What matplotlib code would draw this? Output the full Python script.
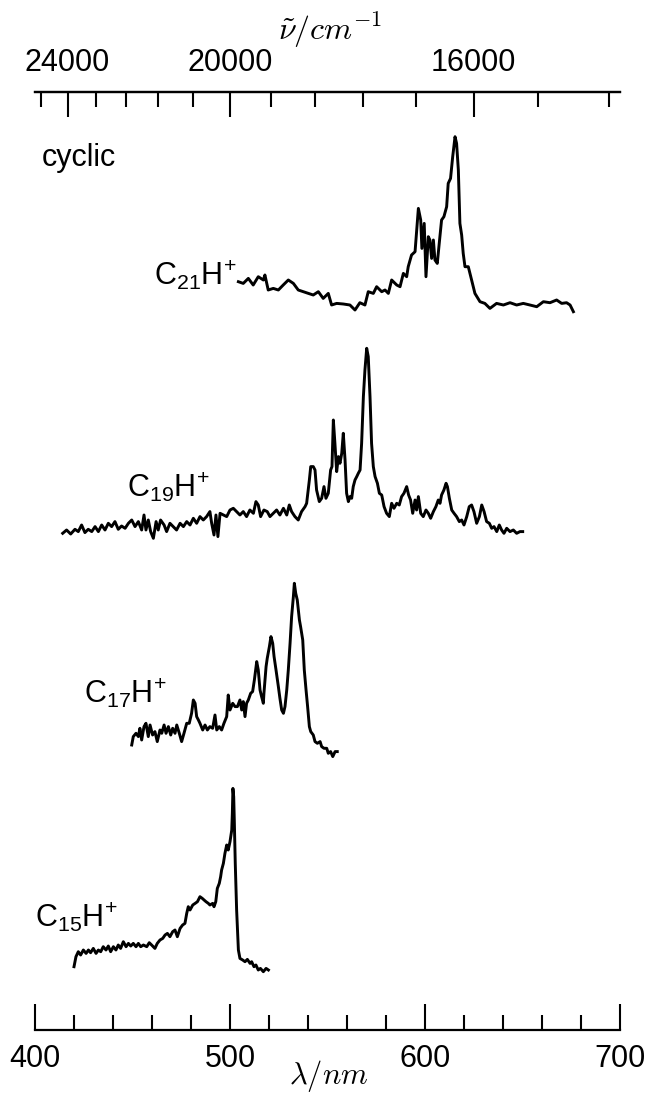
import matplotlib
matplotlib.use("Agg")
import matplotlib.pyplot as plt
from matplotlib.ticker import FixedLocator, MultipleLocator, FixedFormatter
import numpy as np

# ---------------- data (wavelength in nm, intensity in arbitrary units) -------------
c21_wl = [504.3, 506.8, 509.4, 511.9, 514.5, 517.1, 517.9, 519.6, 522.2, 524.8, 527.3, 529.9,
          532.5, 535.0, 537.6, 540.2, 542.7, 545.3, 547.8, 550.4, 552.1, 554.7, 558.1, 561.5,
          564.1, 566.6, 569.2, 570.9, 573.5, 575.2, 577.8, 579.5, 581.2, 582.9, 585.5, 587.2,
          588.9, 590.6, 591.4, 593.1, 594.9, 596.6, 597.8, 598.4, 599.6, 600.5, 601.7, 602.5,
          603.4, 604.3, 605.1, 606.3, 607.3, 608.5, 609.7, 611.1, 611.9, 613.1, 614.2, 615.4,
          616.2, 617.1, 617.9, 618.8, 619.6, 620.5, 622.2, 623.9, 625.6, 628.2, 630.7, 633.3,
          636.7, 640.2, 643.6, 647.0, 650.4, 653.8, 657.3, 660.7, 664.1, 667.5, 670.1, 672.6,
          674.4, 676.1]
c21_int = [30.0, 28.3, 33.3, 26.7, 35.0, 31.7, 36.7, 21.7, 23.3, 21.7, 26.7, 31.7,
           28.3, 21.7, 20.0, 18.3, 16.7, 20.0, 13.3, 18.3, 6.7, 8.3, 7.7, 6.7,
           1.7, 9.0, 6.7, 20.0, 18.3, 25.0, 20.0, 21.7, 18.3, 31.7, 26.7, 25.0,
           38.3, 35.0, 45.0, 56.7, 60.0, 103.3, 91.7, 63.3, 88.3, 35.0, 75.0, 71.7,
           53.3, 71.7, 51.7, 48.3, 68.3, 91.7, 95.0, 105.0, 128.3, 133.3, 155.0, 175.0,
           168.3, 141.7, 88.3, 76.7, 58.3, 45.0, 45.0, 31.7, 18.3, 10.0, 8.3, 3.3,
           8.3, 6.7, 9.0, 6.7, 8.3, 6.7, 5.0, 10.0, 9.0, 11.7, 8.3, 9.0,
           6.7, 0.0]

c19_wl = [414.2, 416.2, 418.3, 420.5, 422.2, 423.9, 425.6, 427.3, 429.1, 430.8, 432.5, 434.2,
          435.9, 437.6, 439.3, 441.0, 442.7, 444.4, 446.2, 447.9, 449.6, 451.3, 453.0, 454.7,
          455.9, 456.9, 458.1, 459.3, 460.7, 462.1, 463.2, 464.4, 466.2, 467.5, 469.2, 470.9,
          472.6, 474.4, 476.1, 477.8, 479.5, 481.2, 482.9, 484.6, 486.3, 488.0, 489.7, 490.6,
          491.8, 492.8, 493.8, 494.9, 496.6, 498.3, 500.0, 501.7, 503.4, 505.1, 506.8, 508.5,
          510.2, 512.0, 513.3, 514.5, 515.7, 517.4, 519.1, 520.5, 522.2, 523.9, 525.6, 527.4,
          529.1, 530.4, 531.6, 533.3, 535.0, 536.7, 538.5, 539.3, 540.7, 541.4, 542.7, 543.6,
          544.4, 545.8, 547.0, 548.2, 549.2, 550.4, 551.6, 552.3, 553.0, 553.8, 554.7, 555.6,
          556.4, 557.3, 558.1, 559.0, 559.8, 560.7, 561.5, 562.4, 563.2, 564.1, 565.0, 565.8,
          566.7, 567.5, 568.4, 569.2, 570.1, 570.9, 571.8, 572.6, 573.5, 574.4, 575.6, 576.6,
          577.8, 579.0, 580.3, 581.7, 582.9, 584.1, 585.5, 586.8, 588.0, 589.2, 590.6, 591.6,
          592.6, 593.7, 594.9, 595.7, 596.6, 597.8, 599.1, 600.5, 601.7, 602.9, 604.3, 605.6,
          606.8, 607.7, 608.5, 609.7, 610.8, 611.5, 612.5, 613.7, 614.9, 616.2, 617.6, 618.8,
          620.0, 621.4, 622.7, 623.9, 625.1, 626.5, 627.9, 629.1, 630.3, 631.6, 633.0, 634.2,
          635.4, 636.8, 638.1, 639.3, 640.5, 641.9, 643.6, 645.3, 647.0, 648.7, 650.1]
c19_int = [5.0, 8.3, 4.3, 9.0, 6.7, 13.3, 5.7, 9.0, 6.7, 11.7, 6.7, 13.3,
           8.3, 15.0, 11.7, 16.7, 9.0, 12.3, 10.0, 15.0, 18.3, 11.7, 16.7, 8.3,
           23.3, 8.3, 18.3, 6.7, 0.0, 16.7, 8.3, 18.3, 13.3, 6.7, 15.0, 11.7,
           8.3, 15.0, 11.7, 16.7, 13.3, 20.0, 15.0, 21.7, 18.3, 21.7, 26.7, 15.0,
           3.3, 23.3, 1.7, 25.0, 23.3, 21.7, 28.3, 30.0, 26.7, 23.3, 26.7, 21.7,
           28.3, 25.0, 36.7, 33.3, 21.7, 28.3, 26.7, 21.7, 25.0, 28.3, 23.3, 30.0,
           23.3, 33.3, 26.7, 21.7, 18.3, 26.7, 31.7, 35.0, 58.3, 71.7, 71.7, 68.3,
           48.3, 36.7, 40.0, 51.7, 40.0, 45.0, 68.3, 71.7, 118.3, 95.0, 66.7, 81.7,
           75.0, 85.0, 105.0, 78.3, 45.0, 36.7, 41.7, 40.0, 51.7, 58.3, 61.7, 65.0,
           68.3, 95.0, 141.7, 168.3, 190.0, 181.7, 141.7, 95.0, 71.7, 61.7, 55.0, 45.0,
           43.3, 31.7, 25.0, 21.7, 35.0, 30.0, 35.0, 33.3, 41.7, 45.0, 51.7, 43.3,
           38.3, 25.0, 38.3, 28.3, 41.7, 25.0, 21.7, 28.3, 25.0, 20.0, 26.7, 31.7,
           38.3, 35.0, 43.3, 48.3, 55.0, 51.7, 40.0, 28.3, 25.0, 21.7, 16.7, 18.3,
           13.3, 21.7, 31.7, 33.3, 26.7, 15.0, 21.7, 33.3, 26.7, 16.7, 15.0, 10.0,
           11.7, 6.7, 13.3, 8.3, 5.0, 10.0, 6.7, 8.3, 5.0, 6.7, 6.7]

c17_wl = [449.6, 450.4, 451.8, 453.0, 453.8, 454.7, 455.9, 456.9, 458.1, 459.0, 460.3, 461.5,
          462.7, 464.1, 465.0, 466.2, 467.2, 468.4, 469.6, 470.6, 471.8, 472.7, 474.0, 475.2,
          476.4, 477.8, 479.1, 480.3, 481.2, 482.1, 482.9, 483.8, 484.6, 486.0, 487.2, 488.4,
          489.7, 491.1, 492.3, 493.2, 494.5, 495.7, 496.9, 498.3, 499.1, 500.0, 501.4, 502.6,
          503.8, 505.1, 506.0, 506.8, 507.7, 508.5, 509.4, 510.6, 511.6, 512.5, 513.7, 514.5,
          515.4, 516.2, 517.1, 517.4, 518.5, 519.1, 520.2, 521.0, 521.9, 522.6, 523.6, 524.8,
          525.6, 526.5, 527.4, 528.2, 529.1, 529.9, 530.8, 531.6, 532.5, 533.0, 533.7, 534.5,
          535.6, 536.2, 537.3, 538.1, 539.0, 539.8, 540.7, 541.4, 542.7, 543.6, 544.8, 546.2,
          547.0, 548.2, 549.6, 550.4, 551.6, 552.7, 553.9, 555.0]
c17_int = [13.3, 21.7, 25.0, 21.7, 30.0, 18.3, 31.7, 35.0, 21.7, 33.3, 23.3, 26.7,
           16.7, 28.3, 25.0, 33.3, 25.0, 31.7, 23.3, 30.0, 25.0, 33.3, 25.0, 16.7,
           25.0, 35.0, 35.0, 45.0, 58.3, 55.0, 41.7, 38.3, 35.0, 28.3, 33.3, 28.3,
           31.7, 30.0, 43.3, 28.3, 31.7, 28.3, 35.0, 41.7, 63.3, 48.3, 55.0, 51.7,
           51.7, 58.3, 48.3, 56.7, 41.7, 55.0, 58.3, 65.0, 66.7, 78.3, 96.7, 88.3,
           68.3, 61.7, 55.0, 65.0, 91.7, 100.0, 111.7, 121.7, 115.0, 101.7, 88.3, 71.7,
           60.0, 48.3, 45.0, 51.7, 68.3, 88.3, 115.0, 141.7, 161.7, 175.0, 165.0, 158.3,
           138.3, 131.7, 118.3, 88.3, 68.3, 51.7, 31.7, 26.7, 23.3, 16.7, 15.0, 16.7,
           11.7, 10.0, 10.0, 5.0, 6.7, 1.7, 6.7, 6.7]

c15_wl = [420.0, 421.0, 422.2, 423.4, 424.8, 426.2, 427.4, 428.5, 429.9, 431.3, 432.5, 433.7,
          435.0, 436.4, 437.6, 438.8, 440.2, 441.5, 442.7, 443.9, 445.3, 446.7, 447.9, 449.1,
          450.4, 451.8, 453.0, 454.2, 455.6, 457.3, 458.6, 459.8, 461.5, 462.7, 464.1, 465.5,
          466.7, 467.9, 469.2, 470.6, 471.8, 473.0, 474.4, 475.7, 476.9, 477.8, 478.6, 479.5,
          480.9, 482.1, 483.3, 484.6, 485.8, 486.7, 487.7, 488.9, 489.7, 491.1, 491.8, 492.7,
          493.5, 494.5, 495.2, 495.7, 496.6, 497.4, 498.3, 499.1, 500.0, 500.9, 501.2, 501.5,
          501.9, 502.2, 502.7, 503.4, 504.3, 505.1, 506.5, 507.7, 508.9, 510.3, 511.1, 512.3,
          513.3, 514.5, 515.6, 517.1, 518.5, 519.7]
c15_int = [5.0, 15.0, 20.0, 16.7, 21.7, 18.3, 21.7, 19.0, 23.3, 18.3, 21.7, 20.0,
           25.0, 21.7, 25.7, 20.0, 25.0, 21.7, 26.7, 23.3, 30.0, 25.0, 28.3, 25.7,
           28.3, 25.0, 28.3, 25.0, 26.7, 25.0, 29.0, 26.7, 23.3, 28.3, 31.7, 33.3,
           36.7, 38.3, 35.0, 40.0, 41.7, 35.0, 43.3, 46.7, 48.3, 58.3, 65.0, 61.7,
           66.7, 68.3, 70.0, 75.0, 73.3, 71.7, 70.0, 68.3, 66.7, 68.3, 65.0, 70.0,
           83.3, 88.3, 95.0, 101.7, 108.3, 118.3, 126.7, 121.7, 130.0, 141.7, 158.3, 183.3,
           175.0, 151.7, 108.3, 61.7, 21.7, 13.3, 11.7, 10.0, 12.3, 8.3, 10.0, 5.0,
           6.7, 1.7, 3.3, 0.0, 3.3, 1.7]

labels = [r"C$_\mathregular{21}$H$^\mathregular{+}$", r"C$_\mathregular{19}$H$^\mathregular{+}$",
          r"C$_\mathregular{17}$H$^\mathregular{+}$", r"C$_\mathregular{15}$H$^\mathregular{+}$"]
wavenumber_major = [24000, 20000, 16000]
wavenumber_minor = [24800, 23200, 22400, 21600, 20800, 19200, 18400, 17600, 16800, 15200, 14400]

# ---------------- layout ----------------
W, H = 645, 1095
fig = plt.figure(figsize=(W / 100, H / 100), dpi=100)
ax = fig.add_axes([35 / W, 1 - 1030 / H, 585 / W, (1030 - 92.3) / H])
ax.set_xlim(400, 700)
ax.set_ylim(0, 1030 - 92.3)

offsets = [718.3, 491.7, 271.7, 58.3]
label_pos = [(461.0, 745), (447.2, 533), (425.1, 327), (400.2, 103)]
series = [(c21_wl, c21_int), (c19_wl, c19_int), (c17_wl, c17_int), (c15_wl, c15_int)]

FS = 22
for (wl, inten), off, lab, (lx, ly) in zip(series, offsets, labels, label_pos):
    ax.plot(wl, np.asarray(inten) + off, color="black", lw=2.1, solid_joinstyle="round")
    ax.text(lx, ly, lab, fontsize=FS, family="Liberation Sans", ha="left", va="baseline")

ax.text(403.6, 872, "cyclic", fontsize=FS, family="Liberation Sans", ha="left", va="center")

for s in ("left", "right"):
    ax.spines[s].set_visible(False)
for s in ("top", "bottom"):
    ax.spines[s].set_linewidth(1.6)
ax.set_yticks([])

ax.xaxis.set_major_locator(MultipleLocator(100))
ax.xaxis.set_minor_locator(MultipleLocator(20))
ax.tick_params(axis="x", which="major", direction="in", length=19, width=1.5, pad=10,
               labelsize=FS, top=False)
ax.tick_params(axis="x", which="minor", direction="in", length=11, width=1.5, top=False)
for t in ax.get_xticklabels():
    t.set_family("Liberation Sans")

sec = ax.secondary_xaxis("top", functions=(lambda x: 1e7 / x, lambda x: 1e7 / x))
sec.xaxis.set_major_locator(FixedLocator(wavenumber_major))
sec.xaxis.set_major_formatter(FixedFormatter([str(v) for v in wavenumber_major]))
sec.xaxis.set_minor_locator(FixedLocator(wavenumber_minor))
sec.tick_params(axis="x", which="major", direction="in", length=18, width=1.5, pad=10,
                labelsize=FS)
sec.tick_params(axis="x", which="minor", direction="in", length=11, width=1.5)
sec.spines["top"].set_linewidth(1.6)
for t in sec.get_xticklabels():
    t.set_family("Liberation Sans")

fig.text(330 / W, 1 - 30 / H, r"$\tilde{\nu}/cm^{-1}$", fontsize=23, ha="center", va="center",
         math_fontfamily="cm")
fig.text(329 / W, 1 - 1076 / H, r"$\lambda/nm$", fontsize=22, ha="center", va="center",
         math_fontfamily="cm")

fig.savefig("out.png", dpi=100)
